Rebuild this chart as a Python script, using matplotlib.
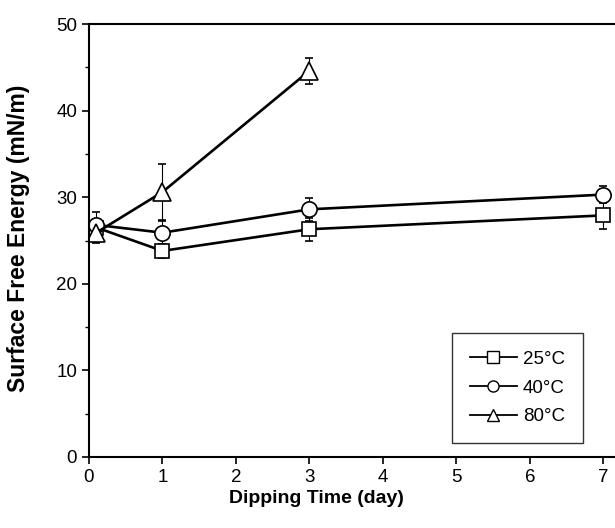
import numpy as np
import matplotlib
matplotlib.use("Agg")
from matplotlib import pyplot as plt
from matplotlib.ticker import MultipleLocator
from matplotlib.lines import Line2D

plt.rcParams['font.family'] = ['Liberation Sans', 'DejaVu Sans']

# dipping time (day)
days = [0.1, 1, 3, 7]
days_80 = [0.1, 1, 3]

# surface free energy (mN/m) and error bars
sfe_25 = [26.5, 23.8, 26.3, 27.9]
err_25 = [1.0, 0.8, 1.3, 1.6]
sfe_40 = [26.8, 25.9, 28.6, 30.3]
err_40 = [1.5, 1.3, 1.3, 1.0]
sfe_80 = [25.9, 30.6, 44.6]
err_80 = [1.2, 3.2, 1.5]

labels = ['25°C', '40°C', '80°C']
markers = ['s', 'o', '^']

fig = plt.figure(figsize=(6.15, 5.28), dpi=100)
ax = fig.add_axes([0.1447, 0.1345, 0.8553, 0.82])

style = dict(color='black', lw=1.9, mfc='white', mec='black', mew=1.2,
             ecolor='black', elinewidth=0.8, capsize=3, capthick=0.8)

ax.errorbar(days, sfe_25, yerr=err_25, marker='s', ms=10, **style)
ax.errorbar(days, sfe_40, yerr=err_40, marker='o', ms=11, **style)
ax.errorbar(days_80, sfe_80, yerr=err_80, marker='^', ms=13, **style)

ax.set_xlim(0, 7.16)
ax.set_ylim(0, 50)
ax.xaxis.set_major_locator(MultipleLocator(1))
ax.yaxis.set_major_locator(MultipleLocator(10))
ax.yaxis.set_minor_locator(MultipleLocator(5))
ax.tick_params(axis='both', which='major', direction='out', length=5, width=1.2,
               labelsize=13.5)
ax.tick_params(axis='y', which='minor', direction='out', length=3, width=1)
ax.spines['right'].set_visible(False)
for s in ['left', 'bottom', 'top']:
    ax.spines[s].set_linewidth(1.5)

ax.set_xlabel('Dipping Time (day)', fontsize=14, fontweight='bold')
ax.set_ylabel('Surface Free Energy (mN/m)', fontsize=16.5, fontweight='bold')
ax.xaxis.set_label_coords(0.433, -0.076)
ax.yaxis.set_label_coords(-0.112, 0.505)

handles = [Line2D([], [], color='black', lw=1.3, marker=m, ms=8, mfc='white',
                  mec='black', mew=1.0) for m in markers]
leg = ax.legend(handles, labels, loc='lower right', bbox_to_anchor=(0.939, 0.032),
                borderaxespad=0, fontsize=13.5, frameon=True, fancybox=False,
                edgecolor='black', handlelength=2.5, borderpad=0.95,
                labelspacing=0.62, handletextpad=0.35)
leg.get_frame().set_linewidth(1.0)

fig.savefig('out.png', dpi=100)
